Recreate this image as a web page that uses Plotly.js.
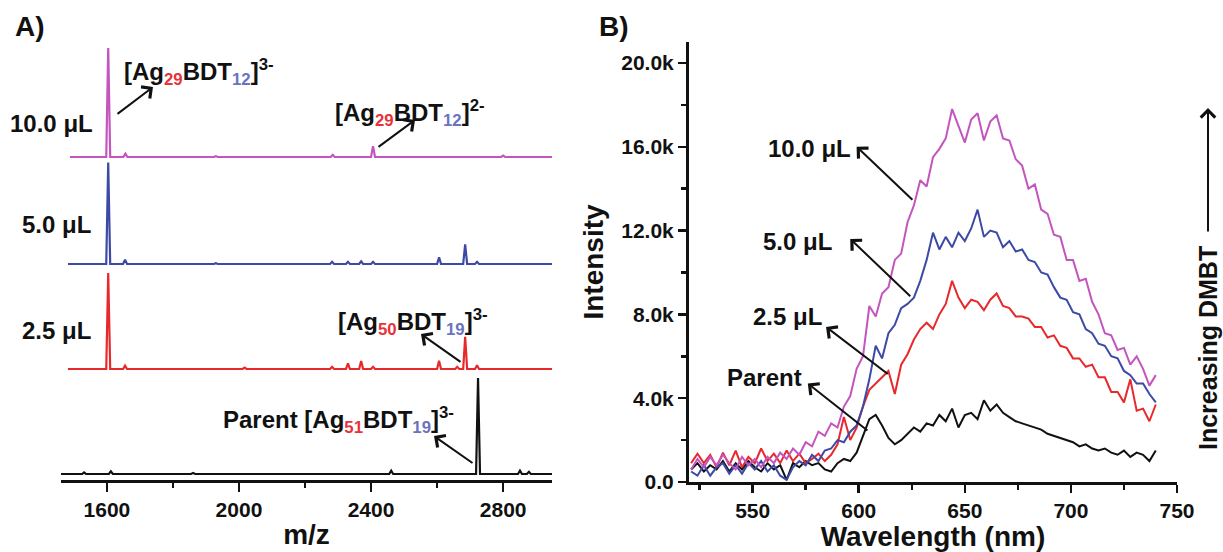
<!DOCTYPE html>
<html>
<head>
<meta charset="utf-8">
<script src="https://cdn.plot.ly/plotly-3.0.1.min.js"></script>
<style>
  html, body { margin: 0; padding: 0; background: #fff; }
  #chart { width: 1223px; height: 552px; }
</style>
</head>
<body>
<div id="chart"></div>
<script>
// ---------- Panel A: mass spectra, peak lists (m/z, relative intensity) ----------
const mz10 = [1604, 1656, 1930, 2284, 2406, 2800];
const int10 = [100, 3, 0.8, 2, 10, 1.2];

const mz5 = [1604, 1655, 1930, 2282, 2330, 2370, 2406, 2606, 2685, 2721];
const int5 = [93, 4, 0.8, 2, 2, 2.5, 2, 6.1, 18, 2];

const mz25 = [1604, 1655, 2017, 2282, 2330, 2370, 2406, 2606, 2661, 2685, 2721];
const int25 = [88, 3, 1.2, 2, 5.2, 7.3, 2, 7.6, 2, 29.5, 3.5];

const mzParent = [1531, 1612, 1861, 2461, 2724, 2851, 2878];
const intParent = [1.5, 2.5, 1, 3, 88, 3, 2];

const mzTicks = [1600, 2000, 2400, 2800];

// ---------- Panel B: emission spectra (wavelength nm, intensity counts/1000) ----------
const wavelength = [521, 524, 527, 530, 533, 536, 539, 542, 545, 548,
  551, 554, 557, 560, 563, 566, 569, 572, 575, 578,
  581, 584, 587, 590, 593, 596, 599, 602, 605, 608,
  611, 614, 617, 620, 623, 626, 629, 632, 635, 638,
  641, 644, 647, 650, 653, 656, 659, 662, 665, 668,
  671, 674, 677, 680, 683, 686, 689, 692, 695, 698,
  701, 704, 707, 710, 713, 716, 719, 722, 725, 728,
  731, 734, 737, 740];

const em10 = [0.6, 1.1, 0.7, 1.2, 0.8, 1.3, 0.9, 0.6, 1.2, 0.8,
  1.1, 0.7, 1.2, 0.9, 1.4, 1.1, 1.6, 1.3, 1.9, 1.7,
  2.4, 2.2, 2.8, 2.6, 3.6, 4.1, 5.4, 6.0, 8.4, 7.9,
  9.0, 9.3, 10.6, 10.9, 12.4, 13.2, 14.4, 14.1, 15.5, 15.9,
  16.4, 17.8, 17.0, 16.2, 17.3, 17.6, 16.3, 17.2, 17.5, 16.4,
  16.3, 15.4, 15.1, 14.0, 14.2, 13.0, 12.8, 11.8, 11.7, 10.6,
  10.6, 9.6, 9.7, 8.6, 8.0, 7.1, 7.0, 6.3, 6.4, 5.6,
  6.0, 5.4, 4.6, 5.1];

const em5 = [0.5, 0.3, 0.8, 0.3, 0.7, 0.9, 0.4, 0.8, 0.4, 0.9,
  0.6, 1.0, 0.5, 0.8, 0.3, 0.1, 0.7, 1.0, 0.8, 1.3,
  1.0, 1.5, 1.6, 2.0, 1.9, 2.4, 2.7, 3.6, 4.9, 6.5,
  5.9, 7.1, 7.5, 8.3, 8.5, 8.8, 9.6, 10.6, 11.9, 11.1,
  11.7, 11.2, 11.9, 11.5, 12.1, 13.0, 11.7, 12.0, 11.9, 11.2,
  11.5, 11.0, 11.1, 10.6, 10.5, 10.0, 9.9, 9.3, 8.8, 8.7,
  8.1, 8.0, 7.3, 7.1, 6.6, 6.5, 6.0, 5.9, 5.3, 5.1,
  4.7, 4.7, 4.2, 3.8];

const em25 = [0.9, 1.35, 0.9, 1.3, 0.7, 1.4, 0.8, 1.5, 0.7, 1.2,
  0.9, 1.6, 1.0, 1.35, 0.9, 1.5, 1.0, 1.35, 0.9, 1.1,
  1.35, 1.0, 1.3, 1.8, 3.1, 2.0, 2.6, 3.6, 4.4, 4.7,
  5.0, 5.3, 4.2, 5.6, 6.1, 6.8, 7.3, 7.6, 7.3, 8.0,
  8.5, 9.6, 8.8, 8.3, 8.7, 8.6, 8.2, 8.7, 9.0, 8.4,
  8.3, 7.9, 7.9, 7.8, 7.4, 7.4, 6.9, 7.0, 6.5, 6.4,
  5.9, 5.9, 5.5, 5.6, 5.0, 5.0, 4.3, 4.3, 3.8, 4.9,
  3.4, 3.5, 2.9, 3.7];

const emParent = [0.6, 0.9, 0.5, 0.8, 0.6, 1.0, 0.5, 0.9, 0.6, 1.0,
  0.7, 0.5, 0.9, 0.6, 0.8, 0.1, 0.9, 0.7, 1.0, 0.8,
  0.9, 0.6, 0.5, 0.9, 1.1, 1.0, 1.4, 2.2, 3.0, 3.2,
  2.7, 2.1, 1.8, 2.0, 2.3, 2.6, 2.4, 2.8, 2.7, 3.2,
  2.9, 3.5, 2.6, 3.2, 3.3, 3.0, 3.9, 3.4, 3.7, 3.3,
  3.1, 2.9, 2.8, 2.7, 2.6, 2.5, 2.3, 2.2, 2.1, 2.0,
  1.9, 1.7, 1.8, 1.6, 1.5, 1.6, 1.4, 1.3, 1.5, 1.2,
  1.4, 1.3, 1.0, 1.5];

const intensityTickVals = [0, 4000, 8000, 12000, 16000, 20000];
const intensityTickText = ['0.0', '4.0k', '8.0k', '12.0k', '16.0k', '20.0k'];

// ---------- styling ----------
const W = 1223, H = 552;
const FONT = 'Liberation Sans, Arial, sans-serif';
const INK = '#111111';
const C_MAG = '#c455bf';
const C_BLU = '#3c4aa6';
const C_RED = '#e8292c';
const C_BLK = '#111111';
const SUB_RED = '#e8323a';
const SUB_BLU = '#6a73bf';

const px2x = p => p / W;
const px2y = p => 1 - p / H;

// Stick spectrum: narrow triangular peaks on a flat baseline
function stickProfile(mz, inten, start, end) {
  const hw = 6;
  const x = [start], y = [0];
  mz.forEach((m, i) => { x.push(m - hw, m, m + hw); y.push(0, inten[i], 0); });
  x.push(end); y.push(0);
  return { x, y };
}

// Panel A layout: each spectrum sits on its own hidden y axis
const A_LEFT = 61, A_RIGHT = 552, A_AXIS = 481;
const A_RANGE = [1461, 2948];
const Y_LO = -5, Y_HI = 110, PX_PER_UNIT = 120 / 110;
const baselines = { y4: 474, y3: 369, y2: 264, y: 157 };
function stackDomain(b) {
  return [px2y(b - Y_LO * PX_PER_UNIT), px2y(b - Y_HI * PX_PER_UNIT)];
}

const sMag = stickProfile(mz10, int10, 1488, 2948);
const sBlu = stickProfile(mz5, int5, 1482, 2948);
const sRed = stickProfile(mz25, int25, 1482, 2948);
const sBlk = stickProfile(mzParent, intParent, 1461, 2948);

const lineA = (c) => ({ color: c, width: 2.2 });
const traces = [
  { x: sMag.x, y: sMag.y, xaxis: 'x', yaxis: 'y', type: 'scatter', mode: 'lines', line: lineA(C_MAG), hoverinfo: 'skip' },
  { x: sBlu.x, y: sBlu.y, xaxis: 'x', yaxis: 'y2', type: 'scatter', mode: 'lines', line: lineA(C_BLU), hoverinfo: 'skip' },
  { x: sRed.x, y: sRed.y, xaxis: 'x', yaxis: 'y3', type: 'scatter', mode: 'lines', line: lineA(C_RED), hoverinfo: 'skip' },
  { x: sBlk.x, y: sBlk.y, xaxis: 'x', yaxis: 'y4', type: 'scatter', mode: 'lines', line: lineA(C_BLK), hoverinfo: 'skip' }
];

// Panel B traces (intensity converted from thousands to counts)
const toCounts = arr => arr.map(v => v * 1000);
const lineB = (c) => ({ color: c, width: 2 });
[[emParent, C_BLK], [em25, C_RED], [em5, C_BLU], [em10, C_MAG]].forEach(([arr, c]) => {
  traces.push({ x: wavelength, y: toCounts(arr), xaxis: 'x2', yaxis: 'y5', type: 'scatter',
    mode: 'lines', line: lineB(c), hoverinfo: 'skip' });
});

const tickFont = { family: FONT, size: 21, color: INK, weight: 'bold' };
const titleFont = { family: FONT, size: 28, color: INK, weight: 'bold' };
const labelFont = { family: FONT, size: 24, color: INK, weight: 'bold' };

const hiddenY = (b) => ({ domain: stackDomain(b), range: [Y_LO, Y_HI], visible: false, anchor: 'x', fixedrange: true });

const sub = (t, c) => `<sub><span style="color:${c}">${t}</span></sub>`;
const formula = (ag, bdt, charge) => `[Ag${sub(ag, SUB_RED)}BDT${sub(bdt, SUB_BLU)}]<sup>${charge}</sup>`;

const annotations = [];
function label(text, x, y, extra) {
  annotations.push(Object.assign({ text, x, y, xref: 'paper', yref: 'paper', showarrow: false,
    font: labelFont, xanchor: 'center', yanchor: 'middle' }, extra || {}));
}
const ARROW = { arrowhead: 4, arrowsize: 1.4, arrowwidth: 2, arrowcolor: INK, standoff: 0, startstandoff: 0 };
function arrowPx(hx, hy, tx, ty) {
  annotations.push(Object.assign({ text: '', x: px2x(hx), y: px2y(hy), xref: 'paper', yref: 'paper',
    showarrow: true, ax: tx - hx, ay: ty - hy, axref: 'pixel', ayref: 'pixel' }, ARROW));
}
function arrowData(hx, hy, tx, ty) {
  annotations.push(Object.assign({ text: '', x: hx, y: hy, xref: 'x2', yref: 'y5',
    showarrow: true, ax: tx, ay: ty, axref: 'x2', ayref: 'y5' }, ARROW));
}

// Panel letters
label('A)', px2x(30), px2y(27), { font: { family: FONT, size: 28, color: INK, weight: 'bold' } });
label('B)', px2x(614), px2y(27), { font: { family: FONT, size: 28, color: INK, weight: 'bold' } });

// Panel A labels
label('10.0 μL', px2x(95), px2y(123), { xanchor: 'right' });
label('5.0 μL', px2x(93), px2y(225), { xanchor: 'right' });
label('2.5 μL', px2x(93), px2y(330), { xanchor: 'right' });
label(formula('29', '12', '3-'), px2x(122), px2y(72), { xanchor: 'left' });
arrowPx(153, 87, 116, 115);
label(formula('29', '12', '2-'), px2x(333), px2y(113), { xanchor: 'left' });
arrowPx(415, 120, 377, 148);
label(formula('50', '19', '3-'), px2x(336), px2y(322), { xanchor: 'left' });
arrowPx(421, 334, 462, 363);
label('Parent ' + formula('51', '19', '3-'), px2x(221), px2y(420), { xanchor: 'left' });
arrowPx(434, 436, 474, 464);

// Panel B labels
annotations.push({ text: '10.0 μL', x: 577, y: 15900, xref: 'x2', yref: 'y5', showarrow: false, font: labelFont });
arrowData(599, 16000, 626, 13400);
annotations.push({ text: '5.0 μL', x: 571, y: 11500, xref: 'x2', yref: 'y5', showarrow: false, font: labelFont });
arrowData(596, 11600, 625, 8800);
annotations.push({ text: '2.5 μL', x: 566.6, y: 7900, xref: 'x2', yref: 'y5', showarrow: false, font: labelFont });
arrowData(584.6, 7400, 614.4, 5100);
annotations.push({ text: 'Parent', x: 555.6, y: 5000, xref: 'x2', yref: 'y5', showarrow: false, font: labelFont });
arrowData(576, 4700, 604.8, 2400);

// Right-hand trend label
label('Increasing DMBT', px2x(1208), px2y(348), { textangle: -90, font: { family: FONT, size: 25, color: INK, weight: 'bold' } });
arrowPx(1208, 108, 1208, 233);

const layout = {
  width: W, height: H, autosize: false,
  margin: { l: 0, r: 0, t: 0, b: 0, pad: 0 },
  paper_bgcolor: '#ffffff', plot_bgcolor: 'rgba(0,0,0,0)',
  showlegend: false,
  font: { family: FONT, color: INK },
  xaxis: {
    domain: [px2x(A_LEFT), px2x(A_RIGHT)], range: A_RANGE, anchor: 'free', position: px2y(A_AXIS),
    showline: true, linecolor: INK, linewidth: 3, showgrid: false, zeroline: false,
    tickmode: 'array', tickvals: mzTicks, ticks: 'outside', ticklen: 9, tickwidth: 2.5, tickcolor: INK,
    minor: { tickmode: 'linear', tick0: 1600, dtick: 200, ticks: 'outside', ticklen: 5, tickwidth: 2.5, tickcolor: INK },
    tickfont: tickFont, automargin: false, fixedrange: true,
    title: { text: 'm/z', font: titleFont, standoff: 4 }
  },
  yaxis: hiddenY(baselines.y),
  yaxis2: hiddenY(baselines.y2),
  yaxis3: hiddenY(baselines.y3),
  yaxis4: hiddenY(baselines.y4),
  xaxis2: {
    domain: [px2x(689), px2x(1177)], range: [520, 750], anchor: 'y5',
    showline: true, linecolor: INK, linewidth: 3, showgrid: false, zeroline: false,
    tickmode: 'linear', tick0: 550, dtick: 50, ticks: 'outside', ticklen: 8, tickwidth: 2.5, tickcolor: INK,
    minor: { tickmode: 'linear', tick0: 525, dtick: 50, ticks: 'outside', ticklen: 5, tickwidth: 2.5, tickcolor: INK },
    tickfont: tickFont, automargin: false, fixedrange: true,
    title: { text: 'Wavelength (nm)', font: titleFont, standoff: 4 }
  },
  yaxis5: {
    domain: [px2y(482), px2y(42)], range: [0, 21000], anchor: 'x2',
    showline: true, linecolor: INK, linewidth: 3, showgrid: false, zeroline: false,
    tickmode: 'array', tickvals: intensityTickVals, ticktext: intensityTickText,
    ticks: 'outside', ticklen: 8, tickwidth: 2.5, tickcolor: INK,
    minor: { tickmode: 'linear', tick0: 2000, dtick: 4000, ticks: 'outside', ticklen: 5, tickwidth: 2.5, tickcolor: INK },
    tickfont: tickFont, automargin: false, fixedrange: true,
    title: { text: 'Intensity', font: titleFont, standoff: 10 }
  },
  annotations
};

Plotly.newPlot('chart', traces, layout, { displayModeBar: false, staticPlot: true });
</script>
</body>
</html>
